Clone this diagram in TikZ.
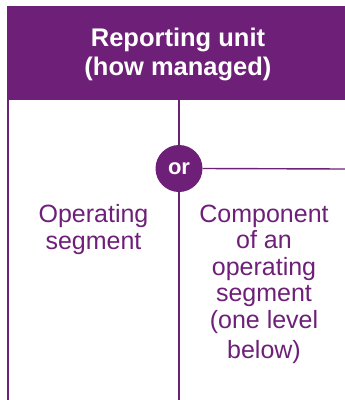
\documentclass[tikz,border=0pt]{standalone}
\usepackage{fontspec}
\setmainfont{Liberation Sans}
\definecolor{ppl}{RGB}{110,32,120}
\begin{document}
\begin{tikzpicture}[x=1pt,y=-1pt,
  vline/.style={draw=ppl,line width=1.8pt},
  hline/.style={draw=ppl,line width=1.4pt},
  bodytext/.style={text=ppl,align=center,inner sep=0pt,font=\fontsize{25}{26.5}\selectfont},
  headbox/.style={text=white,inner sep=0pt,font=\bfseries\fontsize{25.5}{29}\selectfont,align=center},
  orcirc/.style={circle,fill=ppl,text=white,inner sep=0pt,minimum size=47pt,font=\bfseries\fontsize{22}{24}\selectfont}]
\useasboundingbox (0,0) rectangle (345,400);
\fill[ppl] (7,6) rectangle (345,100);
\node[headbox,anchor=base] (head) at (178,75) {Reporting unit\\(how managed)};
\coordinate (hl) at (8,100);
\coordinate (hm) at (179,100);
\coordinate (bl) at (8,400);
\coordinate (bm) at (179,400);
\coordinate (er) at (345,169);
\node[orcirc] (or) at (179,168.5) {or};
\draw[vline] (hl) -- (bl);
\draw[vline] (hm) -- (or.north);
\draw[vline] (or.south) -- (bm);
\draw[hline] (or.east) -- (er);
\node[bodytext,anchor=base] (opseg) at (93.5,249) {Operating\\segment};
\node[bodytext,anchor=base] (comp) at (264,358) {Component\\of an\\operating\\segment\\(one level\\[3.5pt]below)};
\end{tikzpicture}
\end{document}
